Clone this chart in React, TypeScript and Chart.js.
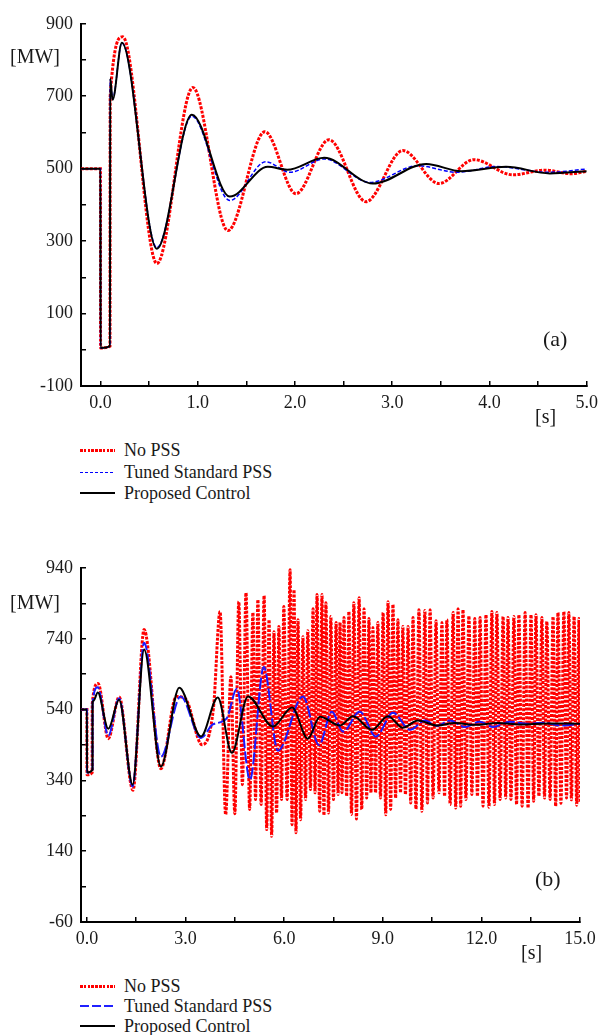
import React, { useEffect, useRef } from 'react';
import { Chart, registerables } from 'chart.js';

Chart.register(...registerables);

const SERIF = "'Liberation Serif','Times New Roman',Times,serif";
const TEXT = '#1a1a1a';

// ---------- Chart (a) : 0 - 5 s ----------
const aNoPssT = [-0.2, 0, 0.001, 0.098, 0.1, 0.23, 0.58, 0.95, 1.31, 1.69, 2.01, 2.35, 2.73, 3.11, 3.48, 3.84, 4.24, 4.57, 4.84, 5.0];
const aNoPssV = [500, 500, 5, 10, 700, 864, 238, 724, 329, 602, 431, 580, 409, 550, 459, 525, 483, 496, 486, 493];

const aTunedT = [-0.2, 0, 0.001, 0.098, 0.1, 0.125, 0.22, 0.58, 0.94, 1.33, 1.70, 1.95, 2.30, 2.77, 3.26, 3.67, 4.07, 4.6, 5.0];
const aTunedV = [500, 500, 5, 10, 745, 692, 848, 282, 645, 412, 519, 490, 527, 462, 508, 490, 506, 490, 499];

const aPropT = [-0.2, 0, 0.001, 0.098, 0.1, 0.125, 0.22, 0.58, 0.94, 1.33, 1.72, 1.92, 2.30, 2.80, 3.35, 3.71, 4.17, 4.62, 5.0];
const aPropV = [500, 500, 5, 10, 750, 690, 848, 279, 649, 423, 505, 497, 530, 459, 513, 493, 505, 487, 493];

const aXTicks = [0, 0.5, 1, 1.5, 2, 2.5, 3, 3.5, 4, 4.5, 5];
const aXLabels = [0, 1, 2, 3, 4, 5];
const aYTicks = [-100, 0, 100, 200, 300, 400, 500, 600, 700, 800, 900];
const aYLabels = [-100, 100, 300, 500, 700, 900];

// ---------- Chart (b) : 0 - 15 s ----------
const bNoPssPreT = [-0.18, 0, 0.001, 0.16, 0.162, 0.34, 0.65, 0.98, 1.40, 1.74, 2.25, 2.72, 3.0, 3.5, 3.85];
const bNoPssPreV = [540, 540, 356, 362, 556, 614, 458, 576, 312, 766, 373, 577, 570, 441, 545];

const bNoPssPeakT = [4.05, 4.38, 4.62, 4.84, 5.05, 5.20, 5.39, 5.54, 5.69, 5.84, 5.99, 6.18, 6.30, 6.42, 6.57, 6.72, 6.88, 7.00, 7.15, 7.27, 7.42, 7.58, 7.70, 7.82, 7.97, 8.12, 8.28, 8.43, 8.58, 8.70, 8.85, 9.01, 9.16, 9.31, 9.46, 9.61, 9.77, 9.92, 10.10, 10.28, 10.44, 10.62, 10.80, 10.95, 11.14, 11.29, 11.44, 11.62, 11.80, 11.96, 12.14, 12.32, 12.47, 12.66, 12.81, 12.99, 13.14, 13.33, 13.51, 13.66, 13.84, 13.99, 14.18, 14.33, 14.51, 14.66, 14.82, 14.97];
const bNoPssPeakV = [817, 633, 845, 870, 814, 851, 862, 794, 760, 775, 831, 935, 879, 794, 746, 763, 825, 865, 865, 842, 803, 786, 786, 800, 817, 842, 856, 825, 797, 772, 786, 814, 845, 837, 794, 775, 775, 800, 822, 820, 822, 791, 786, 794, 814, 825, 822, 805, 797, 800, 808, 817, 814, 803, 800, 803, 808, 814, 808, 808, 800, 789, 803, 814, 817, 814, 803, 797];

const bNoPssTroughT = [4.22, 4.50, 4.73, 4.95, 5.13, 5.30, 5.47, 5.62, 5.77, 5.92, 6.09, 6.24, 6.36, 6.50, 6.65, 6.80, 6.94, 7.08, 7.21, 7.35, 7.50, 7.64, 7.76, 7.90, 8.05, 8.20, 8.36, 8.51, 8.64, 8.78, 8.93, 9.09, 9.24, 9.39, 9.54, 9.69, 9.85, 10.01, 10.19, 10.36, 10.53, 10.71, 10.88, 11.05, 11.22, 11.37, 11.53, 11.71, 11.88, 12.05, 12.23, 12.40, 12.57, 12.74, 12.90, 13.07, 13.24, 13.42, 13.59, 13.75, 13.92, 14.09, 14.26, 14.42, 14.59, 14.74, 14.90, 15.0];
const bNoPssTroughV = [243, 246, 328, 258, 286, 272, 201, 182, 248, 286, 286, 215, 192, 229, 286, 314, 305, 253, 241, 248, 286, 300, 305, 295, 244, 231, 258, 290, 305, 305, 290, 243, 258, 290, 305, 300, 276, 259, 253, 276, 290, 305, 295, 272, 262, 267, 286, 300, 295, 267, 264, 272, 286, 290, 286, 272, 267, 262, 281, 295, 290, 286, 267, 275, 290, 285, 270, 280];

const bTunedT = [-0.18, 0, 0.001, 0.17, 0.172, 0.33, 0.65, 0.98, 1.39, 1.74, 2.25, 2.85, 3.47, 3.83, 4.25, 4.56, 4.96, 5.38, 5.81, 6.57, 7.06, 7.45, 7.79, 8.30, 8.79, 9.31, 9.83, 10.28, 10.65, 11.04, 11.5, 11.95, 12.35, 12.87, 13.38, 13.9, 14.4, 15.0];
const bTunedV = [540, 540, 362, 370, 560, 603, 466, 572, 323, 729, 407, 577, 460, 498, 515, 599, 342, 660, 424, 577, 440, 534, 478, 534, 464, 531, 483, 509, 494, 509, 491, 506, 491, 506, 500, 503, 495, 500];

const bPropT = [-0.18, 0, 0.001, 0.17, 0.172, 0.2, 0.33, 0.65, 0.98, 1.39, 1.74, 2.25, 2.81, 3.47, 3.98, 4.41, 4.90, 5.66, 6.24, 6.72, 7.09, 7.70, 8.09, 8.67, 9.16, 9.61, 10.07, 10.65, 11.2, 11.8, 12.5, 13.2, 14.0, 15.0];
const bPropV = [540, 540, 362, 370, 560, 565, 588, 486, 568, 328, 710, 379, 602, 464, 574, 418, 577, 492, 546, 458, 520, 495, 521, 483, 521, 489, 509, 495, 502, 497, 502, 498, 501, 500];

const bXTicks = [0, 1.5, 3, 4.5, 6, 7.5, 9, 10.5, 12, 13.5, 15];
const bXLabels = [0, 3, 6, 9, 12, 15];
const bYTicks = [-60, 40, 140, 240, 340, 440, 540, 640, 740, 840, 940];
const bYLabels = [-60, 140, 340, 540, 740, 940];

const seriesNames = ['No PSS', 'Tuned Standard PSS', 'Proposed Control'];

function pts(t: number[], v: number[]) {
  return t.map((x, i) => ({ x, y: v[i] }));
}

function bNoPssPoints() {
  const out = pts(bNoPssPreT, bNoPssPreV);
  for (let i = 0; i < bNoPssPeakT.length; i++) {
    out.push({ x: bNoPssPeakT[i], y: bNoPssPeakV[i] });
    if (i < bNoPssTroughT.length) out.push({ x: bNoPssTroughT[i], y: bNoPssTroughV[i] });
  }
  return out;
}

const has = (arr: number[], v: number) => arr.some((m) => Math.abs(m - v) < 1e-6);

function xScale(min: number, max: number, ticks: number[], labels: number[], height: number) {
  return {
    type: 'linear',
    min,
    max,
    afterBuildTicks: (s: any) => {
      s.ticks = ticks.map((v) => ({ value: v }));
    },
    afterFit: (s: any) => {
      s.height = height;
    },
    ticks: {
      autoSkip: false,
      maxRotation: 0,
      minRotation: 0,
      padding: 11,
      color: TEXT,
      font: { family: SERIF, size: 18 },
      callback: (v: number) => (has(labels, v) ? v.toFixed(1) : ''),
    },
    grid: { drawOnChartArea: false, drawTicks: true, tickLength: -5, color: '#000', lineWidth: 1.5 },
    border: { display: true, color: '#000', width: 2 },
  };
}

function yScale(min: number, max: number, ticks: number[], labels: number[]) {
  return {
    type: 'linear',
    min,
    max,
    afterBuildTicks: (s: any) => {
      s.ticks = ticks.map((v) => ({ value: v }));
    },
    afterFit: (s: any) => {
      s.width = 81;
    },
    ticks: {
      autoSkip: false,
      padding: 13,
      color: TEXT,
      font: { family: SERIF, size: 18 },
      callback: (v: number) => (has(labels, v) ? String(v) : ''),
    },
    grid: { drawOnChartArea: false, drawTicks: true, tickLength: -5, color: '#000', lineWidth: 1.5 },
    border: { display: true, color: '#000', width: 2 },
  };
}

function lineDs(label: string, data: any[], color: string, width: number, dash: number[], order: number) {
  return {
    label,
    data,
    borderColor: color,
    backgroundColor: color,
    borderWidth: width,
    borderDash: dash,
    borderCapStyle: 'butt',
    pointRadius: 0,
    cubicInterpolationMode: 'monotone',
    fill: false,
    order,
  };
}

function makeConfig(datasets: any[], x: any, y: any, padding: any) {
  return {
    type: 'line',
    data: { datasets },
    options: {
      animation: false,
      responsive: false,
      maintainAspectRatio: false,
      events: [],
      layout: { padding },
      plugins: { legend: { display: false }, tooltip: { enabled: false } },
      scales: { x, y },
    },
  } as any;
}

function ChartCanvas({ config, left, top, width, height }: any) {
  const ref = useRef<HTMLCanvasElement | null>(null);
  useEffect(() => {
    if (!ref.current) return;
    const chart = new Chart(ref.current, config);
    return () => chart.destroy();
  }, []);
  return (
    <canvas
      ref={ref}
      width={width}
      height={height}
      style={{ position: 'absolute', left, top, width, height }}
    />
  );
}

function Txt({ children, left, top, size }: any) {
  return (
    <div
      style={{
        position: 'absolute',
        left,
        top,
        fontFamily: SERIF,
        fontSize: size,
        lineHeight: `${size}px`,
        color: TEXT,
        whiteSpace: 'nowrap',
      }}
    >
      {children}
    </div>
  );
}

function LegendSample({ kind, y }: any) {
  const base: any = { position: 'absolute', left: 80, width: 35 };
  if (kind === 'red')
    return (
      <div
        style={{
          ...base,
          top: y - 1.5,
          height: 3,
          backgroundImage: 'repeating-linear-gradient(90deg, #ff0000 0px, #ff0000 2.6px, transparent 2.6px, transparent 3.8px)',
        }}
      />
    );
  if (kind === 'blueShort')
    return (
      <div
        style={{
          ...base,
          top: y - 0.5,
          height: 1.2,
          backgroundImage: 'repeating-linear-gradient(90deg, #0000ff 0px, #0000ff 3.5px, transparent 3.5px, transparent 5px)',
        }}
      />
    );
  if (kind === 'blueLong')
    return (
      <div
        style={{
          ...base,
          top: y - 0.75,
          height: 1.5,
          backgroundImage: 'repeating-linear-gradient(90deg, #2020ff 0px, #2020ff 9px, transparent 9px, transparent 12px)',
        }}
      />
    );
  return <div style={{ ...base, top: y - 0.75, height: 1.5, background: '#000' }} />;
}

export default function App() {
  const configA = makeConfig(
    [
      lineDs(seriesNames[0], pts(aNoPssT, aNoPssV), '#ff0000', 3, [3, 1.4], 3),
      lineDs(seriesNames[1], pts(aTunedT, aTunedV), '#0000ff', 1.5, [4, 2], 2),
      lineDs(seriesNames[2], pts(aPropT, aPropV), '#000000', 2, [], 1),
    ],
    xScale(-0.2, 5.0, aXTicks, aXLabels, 44),
    yScale(-100, 900, aYTicks, aYLabels),
    { left: 0, right: 14, top: 23, bottom: 0 }
  );

  const configB = makeConfig(
    [
      lineDs(seriesNames[0], bNoPssPoints(), '#ff0000', 3, [3, 1.4], 3),
      lineDs(seriesNames[1], pts(bTunedT, bTunedV), '#1a1aff', 2, [12, 3], 2),
      lineDs(seriesNames[2], pts(bPropT, bPropV), '#000000', 2, [], 1),
    ],
    xScale(-0.18, 15.0, bXTicks, bXLabels, 48),
    yScale(-60, 940, bYTicks, bYLabels),
    { left: 0, right: 29, top: 28, bottom: 0 }
  );

  return (
    <div style={{ position: 'absolute', left: 0, top: 0, width: 609, height: 1035, overflow: 'hidden', background: '#fff' }}>
      <ChartCanvas config={configA} left={0} top={0} width={609} height={430} />
      <ChartCanvas config={configB} left={0} top={540} width={609} height={430} />

      <Txt left={10} top={46} size={20}>[MW]</Txt>
      <Txt left={535} top={406} size={20}>[s]</Txt>
      <Txt left={543} top={328} size={22}>(a)</Txt>

      <Txt left={10} top={592} size={20}>[MW]</Txt>
      <Txt left={521} top={942} size={20}>[s]</Txt>
      <Txt left={535} top={868} size={22}>(b)</Txt>

      <LegendSample kind="red" y={450} />
      <LegendSample kind="blueShort" y={472} />
      <LegendSample kind="black" y={493} />
      <Txt left={124} top={441} size={18}>{seriesNames[0]}</Txt>
      <Txt left={124} top={463} size={18}>{seriesNames[1]}</Txt>
      <Txt left={124} top={484} size={18}>{seriesNames[2]}</Txt>

      <LegendSample kind="red" y={986} />
      <LegendSample kind="blueLong" y={1006} />
      <LegendSample kind="black" y={1026} />
      <Txt left={124} top={977} size={18}>{seriesNames[0]}</Txt>
      <Txt left={124} top={997} size={18}>{seriesNames[1]}</Txt>
      <Txt left={124} top={1017} size={18}>{seriesNames[2]}</Txt>
    </div>
  );
}
